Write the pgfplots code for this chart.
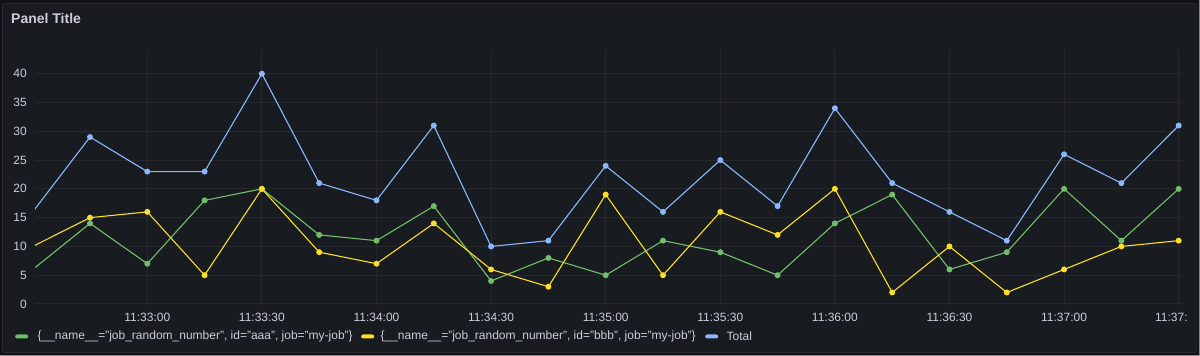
\documentclass[border=0pt]{standalone}
\usepackage{fontspec}
\setmainfont{Liberation Sans}
\usepackage{pgfplots}
\usepackage{pgfplotstable}
\pgfplotsset{compat=1.18}
\definecolor{bgout}{HTML}{111217}
\definecolor{panel}{HTML}{181B1F}
\definecolor{pborder}{HTML}{2A2C31}
\definecolor{gridc}{HTML}{26282D}
\definecolor{txt}{HTML}{CCCCDC}
\definecolor{edgec}{HTML}{8C8C8E}
\definecolor{sgreen}{HTML}{73BF69}
\definecolor{syellow}{HTML}{FADE2A}
\definecolor{sblue}{HTML}{8AB8FF}

% t = seconds after 11:33:00
\pgfplotstableread{
t green yellow total
-30 6 10 16
-15 14 15 29
0 7 16 23
15 18 5 23
30 20 20 40
45 12 9 21
60 11 7 18
75 17 14 31
90 4 6 10
105 8 3 11
120 5 19 24
135 11 5 16
150 9 16 25
165 5 12 17
180 14 20 34
195 19 2 21
210 6 10 16
225 9 2 11
240 20 6 26
255 11 10 21
270 20 11 31
}\data

\begin{document}
\begin{tikzpicture}
\fill[bgout] (0pt,0pt) rectangle (1200pt,356pt);
\fill[panel, draw=pborder, line width=0.8pt, rounded corners=2pt] (2.5pt,3.5pt) rectangle (1197pt,352.5pt);
\fill[edgec] (1198.6pt,0pt) rectangle (1200pt,356pt);
\fill[edgec] (0pt,0pt) rectangle (1200pt,1.3pt);

\node[anchor=west, inner sep=0pt, font=\fontsize{14}{16}\selectfont\bfseries, text=txt] at (11pt,337pt) {Panel Title};

\begin{axis}[
  at={(35pt,51pt)}, anchor=south west,
  scale only axis, width=1146pt, height=255pt,
  xmin=-29.4, xmax=270.6, ymin=-0.174, ymax=44.12,
  axis line style={draw=none},
  major tick length=0pt,
  xtick={0,30,...,270},
  xticklabels={11:33:00,11:33:30,11:34:00,11:34:30,11:35:00,11:35:30,11:36:00,11:36:30,11:37:00,{}},
  ytick={0,5,...,40},
  grid=major,
  major grid style={gridc, line width=1pt},
  tick label style={font=\fontsize{12}{14}\selectfont, text=txt, inner sep=0pt},
  xticklabel style={yshift=-8pt},
  yticklabel style={xshift=-8pt},
  /pgf/number format/assume math mode=true,
  every axis plot/.append style={line width=1.1pt, mark=*, mark size=2.4pt},
]
\addplot[sgreen, mark options={fill=sgreen, draw=sgreen}] table[x=t, y=green] {\data};
\addplot[syellow, mark options={fill=syellow, draw=syellow}] table[x=t, y=yellow] {\data};
\addplot[sblue, mark options={fill=sblue, draw=sblue}] table[x=t, y=total] {\data};
\coordinate (lastlab) at (axis cs:270,-0.174);
\end{axis}

\node[anchor=north west, inner sep=0pt, xshift=-23.7pt, yshift=-8pt, font=\fontsize{12}{14}\selectfont, text=txt] at (lastlab) {11:37:};

% legend
\begin{scope}[every node/.style={inner sep=0pt, font=\fontsize{12}{14}\selectfont, text=txt}]
\node[fill=sgreen, rounded corners=2pt, minimum width=13pt, minimum height=4pt, anchor=west] (s1) at (15pt,19.5pt) {};
\node[anchor=west] (t1) at ([xshift=9pt]s1.east) {\{\_\_name\_\_="job\_random\_number", id="aaa", job="my-job"\}};
\node[fill=syellow, rounded corners=2pt, minimum width=13pt, minimum height=4pt, anchor=west] (s2) at ([xshift=8pt]t1.east) {};
\node[anchor=west] (t2) at ([xshift=6pt]s2.east) {\{\_\_name\_\_="job\_random\_number", id="bbb", job="my-job"\}};
\node[fill=sblue, rounded corners=2pt, minimum width=13pt, minimum height=4pt, anchor=west] (s3) at ([xshift=9pt]t2.east) {};
\node[anchor=west] (t3) at ([xshift=8pt]s3.east) {Total};
\end{scope}

\pgfresetboundingbox
\path (0pt,0pt) rectangle (1200pt,356pt);
\end{tikzpicture}
\end{document}
